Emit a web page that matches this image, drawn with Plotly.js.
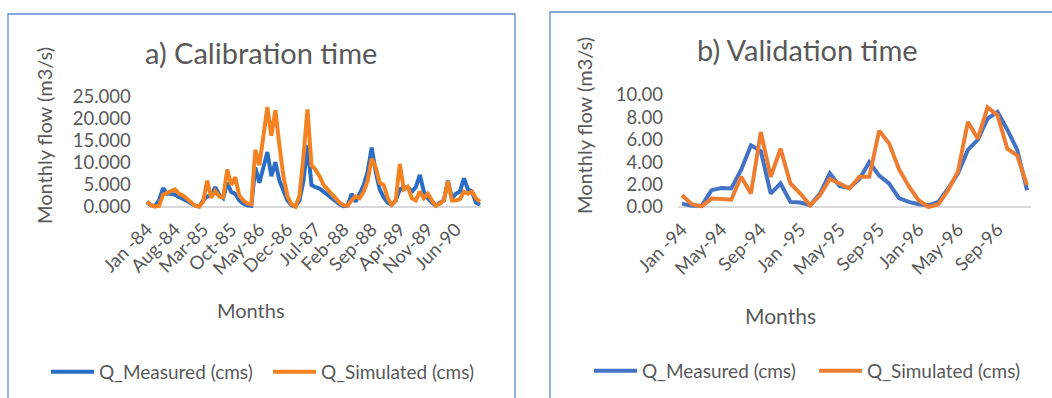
<!DOCTYPE html>
<html><head><meta charset="utf-8">
<script src="https://cdn.plot.ly/plotly-3.0.1.min.js"></script>
<style>html,body{margin:0;padding:0;background:#fff}#chart{width:1052px;height:398px}</style>
</head><body><div id="chart"></div>
<script>
// ---- Data ----
const calMeasured = [1.0,0.4,0.2,1.5,4.3,3.0,3.0,2.8,2.3,1.9,1.4,0.8,0.3,0.1,1.5,2.4,2.5,4.5,2.8,2.0,5.5,3.4,3.0,1.5,0.8,0.4,0.3,9.0,5.5,9.0,12.5,7.0,10.2,6.0,3.5,1.5,0.4,0.1,1.5,6.0,14.0,5.0,4.5,4.2,3.5,2.8,2.0,1.2,0.6,0.2,0.3,3.0,1.2,3.0,5.0,8.0,13.5,8.0,4.0,2.2,1.0,0.5,1.5,4.0,4.5,4.5,3.5,4.5,7.3,3.5,2.0,1.0,0.3,1.0,1.5,6.0,2.0,3.0,3.5,6.5,4.0,3.5,1.0,0.5];
const calSimulated = [1.2,0.4,0.1,0.3,2.8,3.1,3.6,4.0,3.0,2.6,1.8,1.0,0.3,0.1,1.2,6.0,2.1,3.6,2.4,2.2,8.5,5.0,6.8,2.6,1.5,0.8,0.6,13.0,9.5,16.0,22.7,16.2,22.0,14.0,7.0,2.5,0.6,0.1,2.5,11.5,22.2,9.5,8.5,7.0,5.0,4.0,3.0,2.0,1.0,0.4,0.3,1.5,2.4,2.0,3.5,6.0,11.0,9.0,5.5,5.0,2.0,0.5,1.5,9.8,4.0,4.6,2.0,1.5,3.5,2.0,3.0,1.5,0.3,0.8,1.5,5.8,1.5,1.5,1.8,3.5,3.0,3.5,2.0,1.2];
const valMeasured = [0.3,0.1,0.1,1.5,1.7,1.65,3.3,5.5,5.0,1.2,2.1,0.45,0.4,0.15,1.2,3.0,1.85,1.7,2.5,4.0,2.8,2.1,0.8,0.45,0.25,0.15,0.45,1.65,3.0,5.1,6.0,7.9,8.5,6.9,5.1,1.5];
const valSimulated = [1.05,0.25,0.05,0.75,0.72,0.65,2.7,1.2,6.7,2.7,5.2,2.1,1.2,0.15,1.05,2.5,2.1,1.65,2.7,2.7,6.8,5.7,3.4,1.85,0.6,0.0,0.25,1.5,3.2,7.6,6.1,8.9,8.2,5.2,4.6,1.95];
const calTickText = ['Jan -84','Aug-84','Mar-85','Oct-85','May-86','Dec-86','Jul-87','Feb-88','Sep-88','Apr-89','Nov-89','Jun-90'];
const valTickText = ['Jan -94','May-94','Sep-94','Jan -95','May-95','Sep-95','Jan-96','May-96','Sep-96'];
const monthNames = ['Jan','Feb','Mar','Apr','May','Jun','Jul','Aug','Sep','Oct','Nov','Dec'];
const seriesNames = ['Q_Measured (cms)','Q_Simulated (cms)'];

function monthLabels(startYear, n){
  const out=[];
  for(let i=0;i<n;i++){ const y=startYear+Math.floor(i/12); out.push(monthNames[i%12]+'-'+String(y).slice(2)); }
  return out;
}
const calMonths = monthLabels(1984, calMeasured.length);
const valMonths = monthLabels(1994, valMeasured.length);
const calTickVals = calTickText.map((t,i)=>calMonths[i*7]);
const valTickVals = valTickText.map((t,i)=>valMonths[i*4]);

const W=1052,H=398;
const px = v=>v/W, py = v=>1-v/H;
const txt = '#595959';
const FONT = 'Lato, "Noto Sans", sans-serif';

const traces = [
  {x:calMonths,y:calMeasured,xaxis:'x',yaxis:'y',name:seriesNames[0],mode:'lines',line:{color:'#2B6CC4',width:4},legend:'legend'},
  {x:calMonths,y:calSimulated,xaxis:'x',yaxis:'y',name:seriesNames[1],mode:'lines',line:{color:'#F58220',width:4},legend:'legend'},
  {x:valMonths,y:valMeasured,xaxis:'x2',yaxis:'y2',name:seriesNames[0],mode:'lines',line:{color:'#4472C4',width:4},legend:'legend2'},
  {x:valMonths,y:valSimulated,xaxis:'x2',yaxis:'y2',name:seriesNames[1],mode:'lines',line:{color:'#ED7D31',width:4},legend:'legend2'}
];

const xCommon = {type:'category',showgrid:false,zeroline:false,showline:false,ticks:'',tickangle:-45,
  tickfont:{size:18.5,color:txt,family:FONT},ticklabelstandoff:5,fixedrange:true};
const yCommon = {showgrid:false,zeroline:true,zerolinecolor:'#D9D9D9',zerolinewidth:1.5,showline:false,ticks:'',
  tickfont:{size:18.5,color:txt,family:FONT},ticklabelstandoff:14,fixedrange:true,tick0:0};
const legCommon = {orientation:'h',xanchor:'left',yanchor:'middle',font:{size:19,color:txt,family:FONT},
  bgcolor:'rgba(0,0,0,0)',itemwidth:43,entrywidthmode:'pixels'};

const layout = {
  width:W,height:H,margin:{l:0,r:0,t:0,b:0,autoexpand:false},paper_bgcolor:'#fff',plot_bgcolor:'rgba(0,0,0,0)',
  font:{family:FONT,color:txt},showlegend:true,
  xaxis:Object.assign({},xCommon,{domain:[px(145.8),px(481.2)],anchor:'y',range:[-0.3,83.3],tickvals:calTickVals,ticktext:calTickText}),
  yaxis:Object.assign({},yCommon,{domain:[py(209.2),py(97)],anchor:'x',range:[-0.5,25],dtick:5,tickformat:'.3f'}),
  xaxis2:Object.assign({},xCommon,{domain:[px(678),px(1031)],anchor:'y2',range:[-0.4,35.4],tickvals:valTickVals,ticktext:valTickText}),
  yaxis2:Object.assign({},yCommon,{domain:[py(209.2),py(95)],anchor:'x2',range:[-0.2,10],dtick:2,tickformat:'.2f'}),
  legend:Object.assign({},legCommon,{x:px(46),y:py(372),entrywidth:164}),
  legend2:Object.assign({},legCommon,{x:px(589),y:py(371),entrywidth:167}),
  shapes:[
    {type:'rect',xref:'paper',yref:'paper',x0:px(8),x1:px(515),y0:-0.2,y1:py(14),line:{color:'#5B8BD0',width:1.3},fillcolor:'rgba(0,0,0,0)',layer:'below'},
    {type:'rect',xref:'paper',yref:'paper',x0:px(550),x1:1.2,y0:-0.2,y1:py(12),line:{color:'#5B8BD0',width:1.3},fillcolor:'rgba(0,0,0,0)',layer:'below'}
  ],
  annotations:[
    {text:'a) Calibration time',xref:'paper',yref:'paper',x:px(261),y:py(52),xanchor:'center',yanchor:'middle',showarrow:false,font:{size:29,color:txt}},
    {text:'b) Validation time',xref:'paper',yref:'paper',x:px(807),y:py(49),xanchor:'center',yanchor:'middle',showarrow:false,font:{size:29,color:txt}},
    {text:'Monthly flow (m3/s)',xref:'paper',yref:'paper',x:px(44),y:py(136),xanchor:'center',yanchor:'middle',textangle:-90,showarrow:false,font:{size:20,color:txt}},
    {text:'Monthly flow (m3/s)',xref:'paper',yref:'paper',x:px(584),y:py(126),xanchor:'center',yanchor:'middle',textangle:-90,showarrow:false,font:{size:20,color:txt}},
    {text:'Months',xref:'paper',yref:'paper',x:px(251),y:py(310),xanchor:'center',yanchor:'middle',showarrow:false,font:{size:20,color:txt}},
    {text:'Months',xref:'paper',yref:'paper',x:px(780),y:py(315),xanchor:'center',yanchor:'middle',showarrow:false,font:{size:21,color:txt}}
  ]
};
Plotly.newPlot('chart',traces,layout,{displayModeBar:false,staticPlot:true});
</script></body></html>
